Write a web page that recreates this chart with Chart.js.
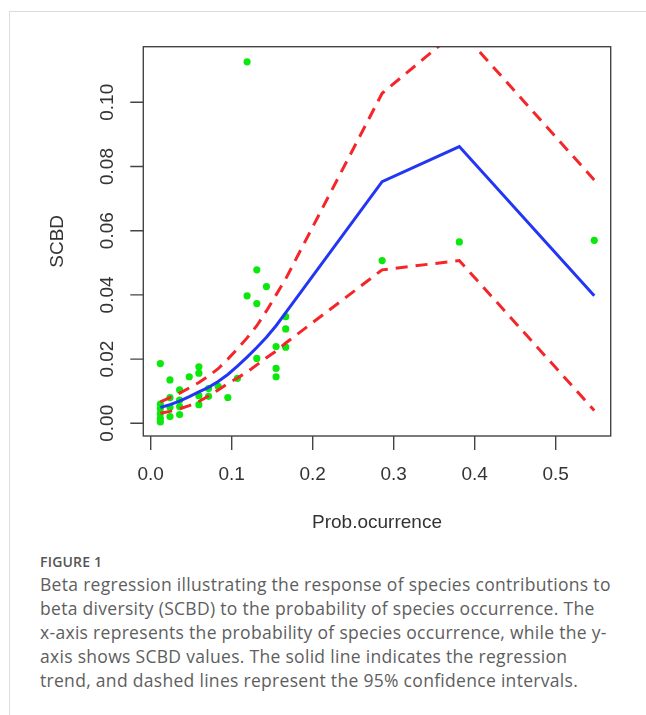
<!DOCTYPE html>
<html>
<head>
<meta charset="utf-8">
<script src="https://cdn.jsdelivr.net/npm/chart.js@4.4.1/dist/chart.umd.min.js"></script>
<style>
  html, body { margin: 0; padding: 0; background: #fff; }
  body { width: 646px; height: 715px; position: relative; overflow: hidden; }
  #frame { position: absolute; left: 9px; top: 11px; right: -5px; bottom: -5px;
           border-left: 1px solid #dcdcdc; border-top: 1px solid #dcdcdc; }
  #plot { position: absolute; left: 0; top: 0; }
  #caption { position: absolute; left: 40px; top: 553px; color: #5e5e5e;
             font-family: "Open Sans", sans-serif; }
  #caption .fig { font-size: 14px; line-height: 18px; font-weight: 600; color: #555; letter-spacing: 0.2px; }
  #caption .txt { font-size: 17.5px; line-height: 24px; margin-top: 1px; white-space: nowrap; letter-spacing: 0.3px; }
</style>
</head>
<body>
<div id="frame"></div>
<canvas id="plot" width="646" height="545"></canvas>
<div id="caption">
  <div class="fig">FIGURE 1</div>
  <div class="txt">Beta regression illustrating the response of species contributions to<br>beta diversity (SCBD) to the probability of species occurrence. The<br>x-axis represents the probability of species occurrence, while the y-<br>axis shows SCBD values. The solid line indicates the regression<br>trend, and dashed lines represent the 95% confidence intervals.</div>
</div>
<script>
// observed species: probability of occurrence vs SCBD
const probOccurrence = [
  0.0119, 0.0119, 0.0119, 0.0119, 0.0119, 0.0119,
  0.0238, 0.0238, 0.0238, 0.0238,
  0.0357, 0.0357, 0.0357, 0.0357,
  0.0476,
  0.0595, 0.0595, 0.0595, 0.0595,
  0.0714, 0.0714,
  0.0833, 0.0952, 0.1071,
  0.1190, 0.1190,
  0.1310, 0.1310, 0.1310,
  0.1429,
  0.1548, 0.1548, 0.1548,
  0.1667, 0.1667, 0.1667,
  0.2857, 0.3810, 0.5476
];
const scbd = [
  0.0186, 0.0060, 0.0045, 0.0030, 0.0015, 0.0004,
  0.0135, 0.0080, 0.0050, 0.0021,
  0.0104, 0.0072, 0.0052, 0.0027,
  0.0145,
  0.0176, 0.0156, 0.0086, 0.0058,
  0.0108, 0.0084,
  0.0115, 0.0080, 0.0140,
  0.1126, 0.0397,
  0.0478, 0.0373, 0.0202,
  0.0426,
  0.0239, 0.0171, 0.0145,
  0.0332, 0.0294, 0.0237,
  0.0507, 0.0565, 0.0570
];

// fitted beta regression and 95% CI at each distinct x
const fitX = [0.0119, 0.0238, 0.0357, 0.0476, 0.0595, 0.0714, 0.0833, 0.0952, 0.1071,
              0.1190, 0.1310, 0.1429, 0.1548, 0.1667, 0.2857, 0.3810, 0.5476];
const fitMean = [0.0049, 0.0058, 0.0069, 0.0083, 0.0098, 0.0112, 0.0130, 0.0152, 0.0178,
                 0.0206, 0.0236, 0.0268, 0.0304, 0.0345, 0.0753, 0.0862, 0.0397];
const fitUpper = [0.0067, 0.0080, 0.0094, 0.0110, 0.0127, 0.0147, 0.0170, 0.0200, 0.0232,
                  0.0266, 0.0304, 0.0350, 0.0400, 0.0450, 0.1028, 0.1228, 0.0758];
const fitLower = [0.0031, 0.0037, 0.0045, 0.0055, 0.0068, 0.0085, 0.0104, 0.0124, 0.0141,
                  0.0160, 0.0182, 0.0204, 0.0225, 0.0250, 0.0478, 0.0507, 0.0040];

const xTicks = [0, 0.1, 0.2, 0.3, 0.4, 0.5];
const xTickLabels = ['0.0', '0.1', '0.2', '0.3', '0.4', '0.5'];
const yTicks = [0, 0.02, 0.04, 0.06, 0.08, 0.10];
const yTickLabels = ['0.00', '0.02', '0.04', '0.06', '0.08', '0.10'];

const toXY = (xs, ys) => xs.map((x, i) => ({ x: x, y: ys[i] }));

// base-R style frame, ticks and labels
const rAxes = {
  id: 'rAxes',
  afterDraw(chart) {
    const ctx = chart.ctx;
    const a = chart.chartArea;
    const sx = chart.scales.x, sy = chart.scales.y;
    ctx.save();
    ctx.strokeStyle = '#444';
    ctx.lineWidth = 1.4;
    ctx.strokeRect(a.left, a.top, a.right - a.left, a.bottom - a.top);

    ctx.fillStyle = '#333';
    ctx.font = '19px "Liberation Sans", Arial, sans-serif';
    ctx.textAlign = 'center';
    ctx.textBaseline = 'middle';

    ctx.beginPath();
    xTicks.forEach((v, i) => {
      const px = sx.getPixelForValue(v);
      ctx.moveTo(px, a.bottom);
      ctx.lineTo(px, a.bottom + 14);
      ctx.fillText(xTickLabels[i], px, a.bottom + 39);
    });
    ctx.stroke();

    ctx.beginPath();
    yTicks.forEach((v, i) => {
      const py = sy.getPixelForValue(v);
      ctx.moveTo(a.left, py);
      ctx.lineTo(a.left - 13, py);
      ctx.save();
      ctx.translate(a.left - 36, py);
      ctx.rotate(-Math.PI / 2);
      ctx.fillText(yTickLabels[i], 0, 0);
      ctx.restore();
    });
    ctx.stroke();

    ctx.fillText('Prob.ocurrence', (a.left + a.right) / 2, a.bottom + 87);
    ctx.save();
    ctx.translate(a.left - 86, (a.top + a.bottom) / 2);
    ctx.rotate(-Math.PI / 2);
    ctx.fillText('SCBD', 0, 0);
    ctx.restore();
    ctx.restore();
  }
};

const ctx = document.getElementById('plot').getContext('2d');

new Chart(ctx, {
  type: 'scatter',
  data: {
    datasets: [
      {
        type: 'line', label: 'upper 95%', data: toXY(fitX, fitUpper),
        borderColor: '#f4262a', borderWidth: 3, borderDash: [12, 8],
        pointRadius: 0, tension: 0, fill: false, clip: 0
      },
      {
        type: 'line', label: 'lower 95%', data: toXY(fitX, fitLower),
        borderColor: '#f4262a', borderWidth: 3, borderDash: [12, 8],
        pointRadius: 0, tension: 0, fill: false, clip: 0
      },
      {
        type: 'line', label: 'fit', data: toXY(fitX, fitMean),
        borderColor: '#2336f5', borderWidth: 3,
        pointRadius: 0, tension: 0, fill: false, clip: 0
      },
      {
        label: 'SCBD', data: toXY(probOccurrence, scbd),
        backgroundColor: '#0be80b', borderWidth: 0, pointRadius: 3.6, clip: 0
      }
    ]
  },
  options: {
    responsive: false,
    animation: false,
    devicePixelRatio: 1,
    layout: { padding: { left: 143.3, right: 35.3, top: 46.7, bottom: 109 } },
    plugins: { legend: { display: false }, tooltip: { enabled: false } },
    scales: {
      x: { type: 'linear', display: false, min: -0.00914, max: 0.5679 },
      y: { type: 'linear', display: false, min: -0.00396, max: 0.11732 }
    }
  },
  plugins: [rAxes]
});
</script>
</body>
</html>
